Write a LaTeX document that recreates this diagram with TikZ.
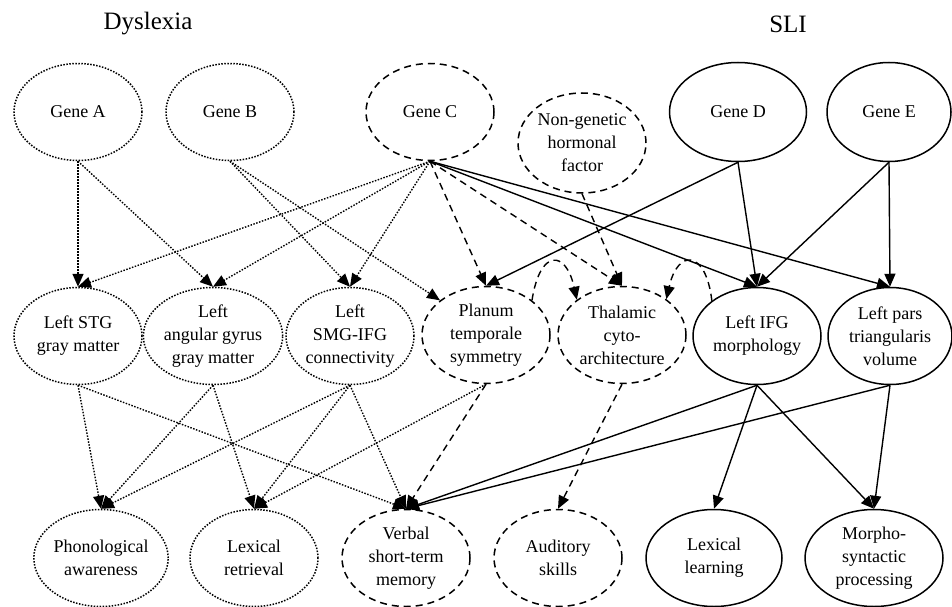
\documentclass[tikz,border=0pt]{standalone}
\usepackage{fontspec}
\setmainfont{Liberation Serif}
\usepackage{tikz}
\usetikzlibrary{shapes.geometric,arrows.meta}

\begin{document}
\begin{tikzpicture}[
                        x=1pt, y=-1pt,
                        every node/.style={
                                font=\fontsize{18}{23}\selectfont,
                                align=center,
                            },
                        var/.style={ellipse, draw, line width=1.5pt, inner sep=0pt,
                                minimum width=128pt, minimum height=97pt},
                        dysvar/.style={var, dash pattern=on 1.5pt off 1.5pt},
                        bothvar/.style={var, dash pattern=on 7pt off 5pt},
                        slivar/.style={var},
                        link/.style={line width=1.4pt, -{Triangle[length=13pt,width=11pt]}},
                        dotlink/.style={link, dash pattern=on 1.5pt off 1.5pt},
                        dashlink/.style={link, dash pattern=on 7pt off 5pt},
                        title/.style={font=\fontsize{25}{30}\selectfont},
                    ]

                    \useasboundingbox (0,0) rectangle (952,607);

                    \node[title] (dyslexia) at (148,24) {Dyslexia};
                    \node[title] (sli) at (788,24) {SLI};

                    \node[dysvar] (geneA) at (78,112) {Gene A};
                    \node[dysvar] (geneB) at (230,112) {Gene B};
                    \node[bothvar] (geneC) at (430,112) {Gene C};
                    \node[bothvar, minimum height=100pt] (hormone) at (582,143) {Non-genetic\\hormonal\\factor};
                    \node[slivar, minimum width=137pt, minimum height=99pt] (geneD) at (738,112) {Gene D};
                    \node[slivar, minimum width=124pt, minimum height=99pt] (geneE) at (889,112) {Gene E};

                    \node[dysvar] (stg) at (78,336) {Left STG\\gray matter};
                    \node[dysvar] (angular) at (213,336) {Left\\angular gyrus\\gray matter};
                    \node[dysvar] (smg) at (350,336) {Left\\SMG-IFG\\connectivity};
                    \node[bothvar] (planum) at (486,335) {Planum\\temporale\\symmetry};
                    \node[bothvar] (thalamic) at (622,335) {Thalamic\\cyto-\\architecture};
                    \node[slivar] (ifg) at (757,336) {Left IFG\\morphology};
                    \node[slivar, minimum width=124pt] (pars) at (890,336) {Left pars\\triangularis\\volume};

                    \node[dysvar] (phon) at (101,558) {Phonological\\awareness};
                    \node[dysvar] (lexret) at (254,558) {Lexical\\retrieval};
                    \node[bothvar] (verbal) at (406,558) {Verbal\\short-term\\memory};
                    \node[bothvar] (auditory) at (558,558) {Auditory\\skills};
                    \node[slivar, minimum width=136pt] (lexlearn) at (714,558) {Lexical\\learning};
                    \node[slivar, minimum width=138pt] (morpho) at (874,558) {Morpho-\\syntactic\\processing};

                    \draw[dotlink] (geneA.south) -- (stg.north);
                    \draw[dotlink] (geneA.south) -- (angular.north);
                    \draw[dotlink] (geneB.south) -- (smg.north);
                    \draw[dotlink] (geneB.south) -- (planum.143);
                    \draw[dotlink] (geneC.south) -- (stg.north);
                    \draw[dotlink] (geneC.south) -- (angular.north);
                    \draw[dotlink] (geneC.south) -- (smg.north);
                    \draw[dashlink] (geneC.south) -- (planum.north);
                    \draw[dashlink] (geneC.south) -- (thalamic.north);
                    \draw[link] (geneC.south) -- (ifg.north);
                    \draw[link] (geneC.south) -- (pars.north);
                    \draw[dashlink] (hormone.south) -- (thalamic.north);
                    \draw[link] (geneD.south) -- (planum.north);
                    \draw[link] (geneD.south) -- (ifg.north);
                    \draw[link] (geneE.south) -- (ifg.north);
                    \draw[link] (geneE.south) -- (pars.north);

                    \draw[dashlink] (planum.37) .. controls (540,248) and (566,250) .. (thalamic.142);
                    \draw[dashlink] (ifg.142) .. controls (706,250) and (678,248) .. (thalamic.39);

                    \draw[dotlink] (stg.south) -- (phon.north);
                    \draw[dotlink] (stg.south) -- (verbal.north);
                    \draw[dotlink] (angular.south) -- (phon.north);
                    \draw[dotlink] (angular.south) -- (lexret.north);
                    \draw[dotlink] (smg.south) -- (phon.north);
                    \draw[dotlink] (smg.south) -- (lexret.north);
                    \draw[dotlink] (smg.south) -- (verbal.north);
                    \draw[dotlink] (planum.south) -- (lexret.north);
                    \draw[dashlink] (planum.south) -- (verbal.north);
                    \draw[dashlink] (thalamic.south) -- (auditory.north);
                    \draw[link] (ifg.south) -- (verbal.north);
                    \draw[link] (ifg.south) -- (lexlearn.north);
                    \draw[link] (ifg.south) -- (morpho.north);
                    \draw[link] (pars.south) -- (verbal.north);
                    \draw[link] (pars.south) -- (morpho.north);
                \end{tikzpicture}
\end{document}
